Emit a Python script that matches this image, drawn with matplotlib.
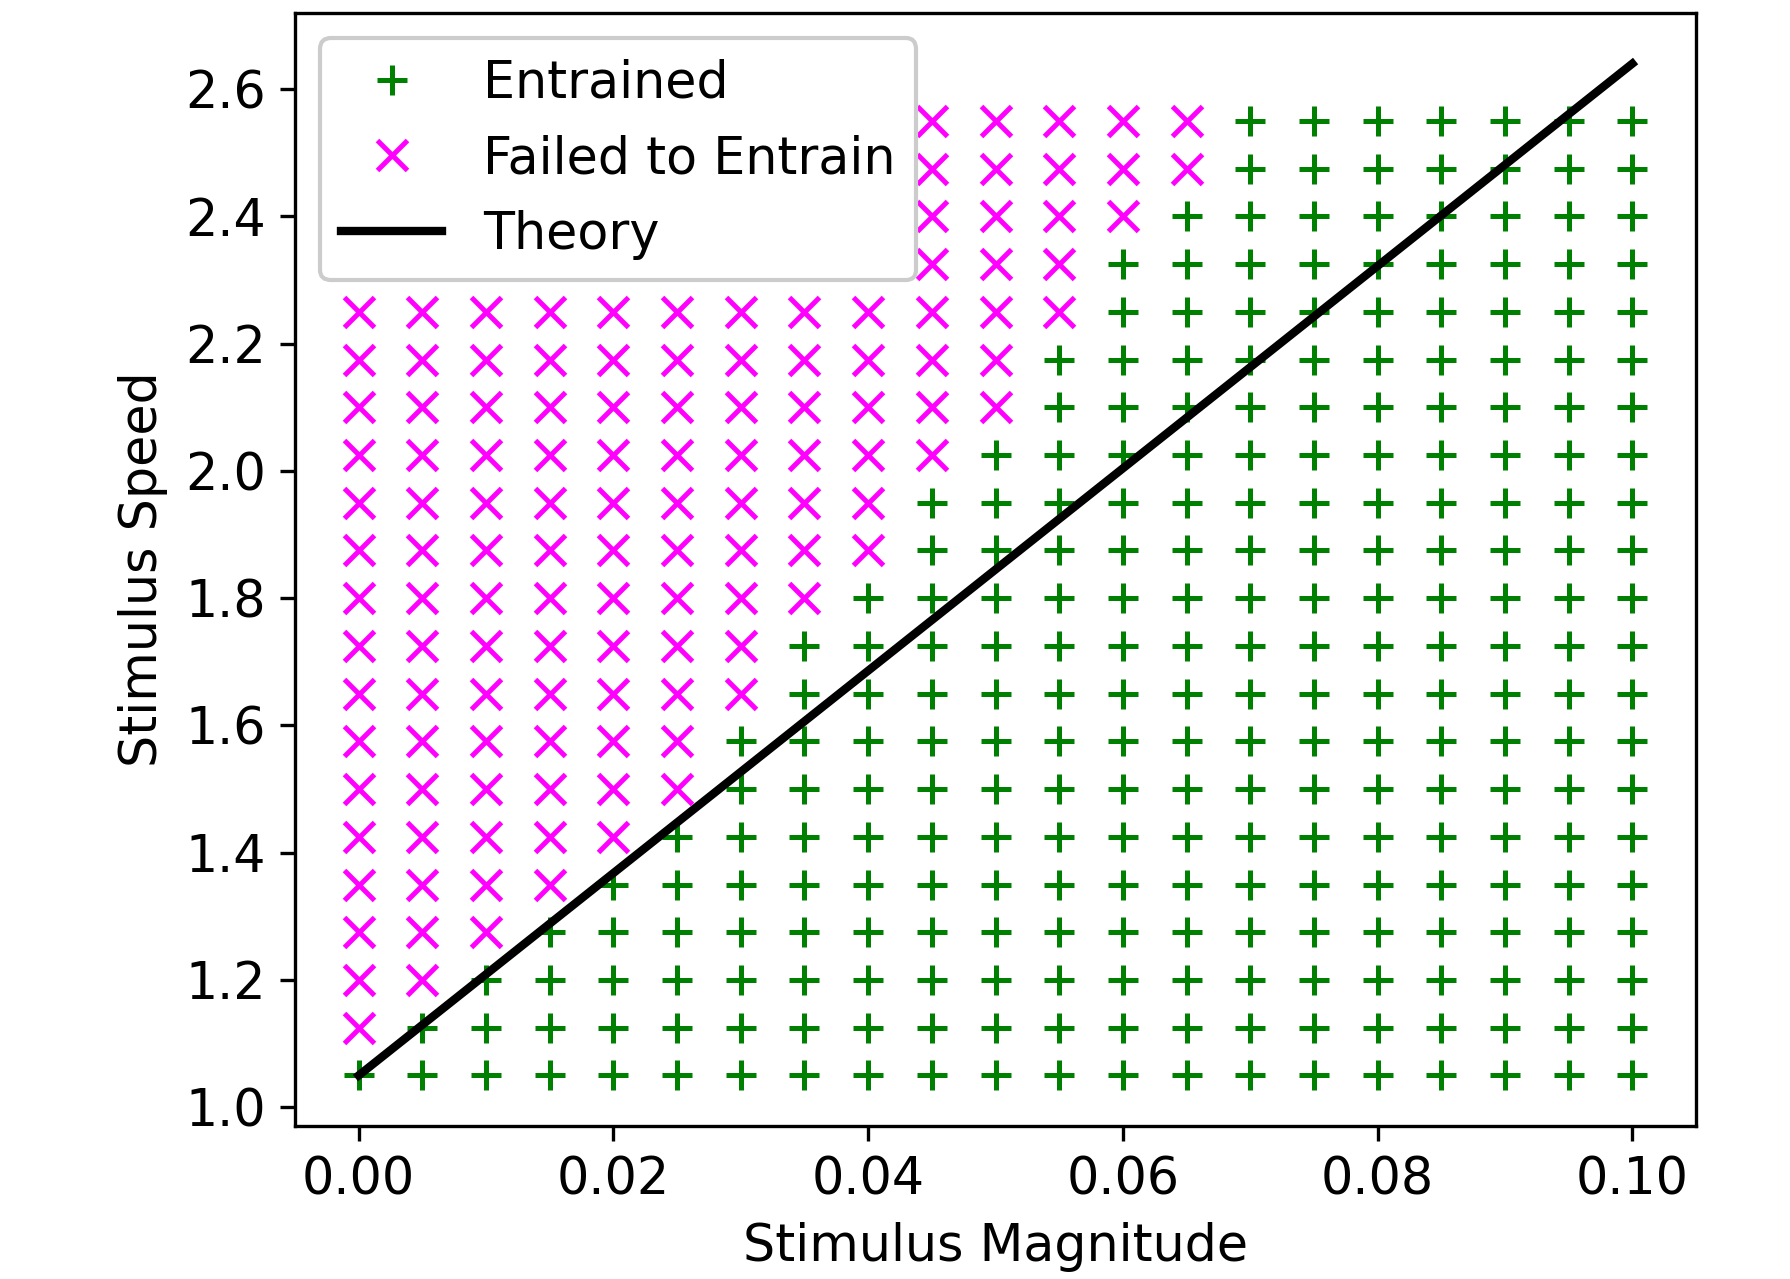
import numpy as np
import matplotlib
matplotlib.use("Agg")
import matplotlib.pyplot as plt

plt.rcParams['font.size'] = 12.2

# grid of stimulus magnitudes and speeds
magnitudes = [0.0, 0.005, 0.01, 0.015, 0.02, 0.025, 0.03, 0.035, 0.04, 0.045, 0.05,
              0.055, 0.06, 0.065, 0.07, 0.075, 0.08, 0.085, 0.09, 0.095, 0.1]
speeds = [1.05, 1.125, 1.2, 1.275, 1.35, 1.425, 1.5, 1.575, 1.65, 1.725, 1.8,
          1.875, 1.95, 2.025, 2.1, 2.175, 2.25, 2.325, 2.4, 2.475, 2.55]
# for each magnitude: number of speeds (from the bottom) that entrained
n_entrained = [1, 2, 3, 4, 5, 6, 8, 10, 11, 13, 14, 16, 18, 19, 21, 21, 21, 21, 21, 21, 21]

theory_x = [0.0, 0.1]
theory_y = [1.05, 2.64]

ent_x, ent_y, fail_x, fail_y = [], [], [], []
for m, n in zip(magnitudes, n_entrained):
    for j, s in enumerate(speeds):
        if j < n:
            ent_x.append(m)
            ent_y.append(s)
        else:
            fail_x.append(m)
            fail_y.append(s)

fig = plt.figure(figsize=(1790 / 300, 1279 / 300), dpi=300)
ax = fig.add_axes([0.1648, 0.1196, 0.9475 - 0.1648, 0.9898 - 0.1196])

ax.plot(ent_x, ent_y, '+', color='green', markersize=7.2, markeredgewidth=1.2, label='Entrained')
ax.plot(fail_x, fail_y, 'x', color='magenta', markersize=7.2, markeredgewidth=1.2, label='Failed to Entrain')
ax.plot(theory_x, theory_y, '-', color='black', linewidth=2, label='Theory')

ax.set_xlabel('Stimulus Magnitude')
ax.set_ylabel('Stimulus Speed')
ax.set_xticks([0.0, 0.02, 0.04, 0.06, 0.08, 0.1])
ax.set_yticks([1.0, 1.2, 1.4, 1.6, 1.8, 2.0, 2.2, 2.4, 2.6])
ax.legend(loc='upper left', framealpha=1)

fig.savefig('out.png', dpi=300)
